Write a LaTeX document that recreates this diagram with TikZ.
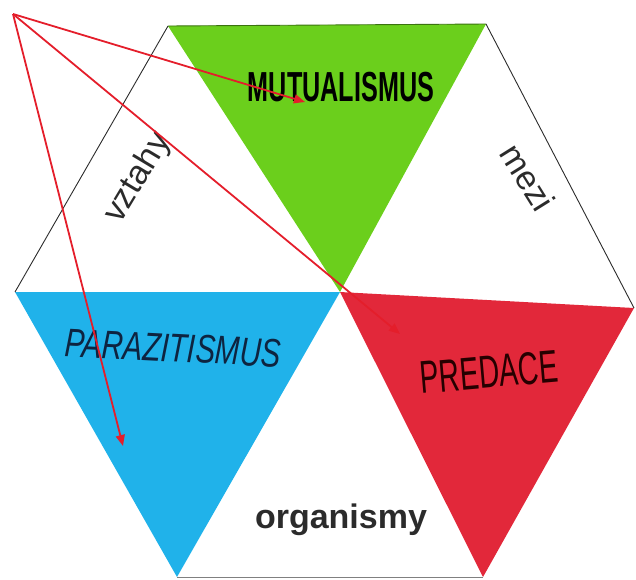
\documentclass[tikz,border=0pt]{standalone}
\usepackage{fontspec}
\setmainfont{Liberation Sans}
\newfontfamily\handfont{Liberation Sans}
\usetikzlibrary{arrows.meta}
\definecolor{mutgreen}{HTML}{6BCF1C}
\definecolor{parblue}{HTML}{20B2EA}
\definecolor{predred}{HTML}{E2283A}
\definecolor{arrowred}{HTML}{E41E2B}
\definecolor{inkgray}{HTML}{2B2B2B}
\definecolor{handnavy}{HTML}{0E2440}
\tikzset{
	edgeline/.style={draw=inkgray, line width=0.9pt},
	wordlabel/.style={font=\fontsize{34}{34}\selectfont, text=inkgray, inner sep=0pt},
	handlabel/.style={font=\handfont\fontsize{42}{42}\selectfont, inner sep=0pt, transform shape},
	redarrow/.style={draw=arrowred, line width=1.8pt, -{Triangle[length=11pt,width=9pt]}}
}

\begin{document}
\begin{tikzpicture}[x=1pt,y=-1pt]
	\useasboundingbox (0,0) rectangle (636,579);
	% corners of the hexagon
	\coordinate (TL) at (168,26);
	\coordinate (TR) at (486,24);
	\coordinate (R) at (634,308);
	\coordinate (BR) at (483,577);
	\coordinate (BL) at (177,577);
	\coordinate (L) at (15,292);
	\coordinate (C) at (340,292);
	
	\fill[mutgreen] (TL) -- (TR) -- (C) -- cycle;
	\fill[parblue] (L) -- (C) -- (BL) -- cycle;
	\fill[predred] (C) -- (R) -- (BR) -- cycle;
	\draw[draw=mutgreen!55!black, line width=0.9pt] (TL) -- (TR);
	\draw[edgeline] (TL) -- (L);
	\draw[edgeline] (TR) -- (R);
	\draw[edgeline, draw=inkgray!60] (BL) -- (BR);
	
	\node[handlabel, xscale=0.6, font=\handfont\bfseries\fontsize{42}{42}\selectfont] (mutualismus) at (341,87) {MUTUALISMUS};
	\node[handlabel, text=handnavy, rotate=-3, xscale=0.74, font=\handfont\itshape\fontsize{40}{40}\selectfont] (parazitismus) at (173,348) {PARAZITISMUS};
	\node[handlabel, text=black!85!red, rotate=5, xscale=0.62, font=\handfont\fontsize{46}{46}\selectfont] (predace) at (489,372) {PREDACE};
	
	\node[wordlabel, rotate=59] (vztahy) at (138,178) {vztahy};
	\node[wordlabel, rotate=-58] (mezi) at (528,177) {mezi};
	\node[wordlabel, font=\bfseries\fontsize{34}{34}\selectfont, anchor=base] (organismy) at (341,528) {organismy};
	
	% arrows from the corner
	\coordinate (src) at (13,14);
	\coordinate (toMut) at (305,102);
	\coordinate (toPred) at (400,334);
	\coordinate (toPar) at (123,446);
	\foreach \t in {toMut, toPred, toPar}{%
	\draw[redarrow] (src) -- (\t);
	}
\end{tikzpicture}
\end{document}
